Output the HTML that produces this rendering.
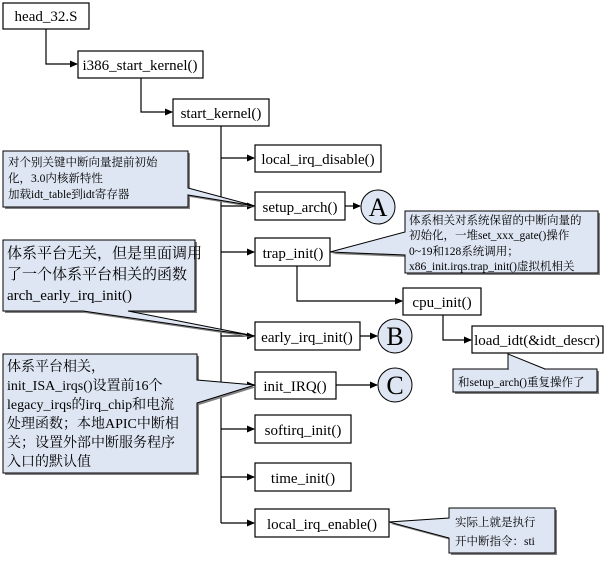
<!DOCTYPE html>
<html><head><meta charset="utf-8"><style>
body{margin:0;background:#fff}
svg text{font-family:"Liberation Serif","Noto Serif CJK SC",serif;fill:#000}
</style></head><body>
<svg width="605" height="558" xmlns="http://www.w3.org/2000/svg">
<defs><marker id="ar" markerWidth="8" markerHeight="8" refX="7" refY="4" orient="auto" markerUnits="userSpaceOnUse"><path d="M0,0.5 L8,4 L0,7.5z" fill="#000"/></marker></defs>
<g fill="none" stroke="#000" stroke-width="1.2">
<path d="M46,29 V64 H77" marker-end="url(#ar)"/>
<path d="M141,78 V112 H172" marker-end="url(#ar)"/>
<path d="M221,126 V523"/>
<path d="M221,158 H254" marker-end="url(#ar)"/>
<path d="M221,206 H254" marker-end="url(#ar)"/>
<path d="M221,252 H254" marker-end="url(#ar)"/>
<path d="M221,336 H254" marker-end="url(#ar)"/>
<path d="M221,385 H254" marker-end="url(#ar)"/>
<path d="M221,429 H254" marker-end="url(#ar)"/>
<path d="M221,477 H254" marker-end="url(#ar)"/>
<path d="M221,523 H254" marker-end="url(#ar)"/>
<path d="M297,266 V301 H402" marker-end="url(#ar)"/>
<path d="M443,315 V340 H471" marker-end="url(#ar)"/>
<path d="M345,206 H360" marker-end="url(#ar)"/>
<path d="M360,336 H377" marker-end="url(#ar)"/>
<path d="M336,385 H377" marker-end="url(#ar)"/>
</g>
<g fill="#fff" stroke="#000" stroke-width="1.2">
<rect x="3" y="3" width="86" height="26"/>
<rect x="78" y="51" width="125" height="27"/>
<rect x="173" y="99" width="96" height="27"/>
<rect x="255" y="145" width="126" height="27"/>
<rect x="255" y="192" width="90" height="28"/>
<rect x="255" y="238" width="75" height="28"/>
<rect x="403" y="288" width="78" height="27"/>
<rect x="472" y="326" width="131" height="27"/>
<rect x="255" y="322" width="105" height="28"/>
<rect x="255" y="372" width="81" height="27"/>
<rect x="255" y="415" width="96" height="28"/>
<rect x="255" y="463" width="96" height="28"/>
<rect x="255" y="509" width="134" height="28"/>
</g>
<g fill="#dfe6f3" stroke="#000" stroke-width="1">
<circle cx="378" cy="207" r="17"/>
<circle cx="395" cy="336" r="17"/>
<circle cx="395" cy="385" r="17"/>
</g>
<g font-size="26" text-anchor="middle">
<text x="378" y="216">A</text><text x="395" y="345">B</text><text x="395" y="394">C</text>
</g>
<g font-size="15">
<text x="46" y="21" text-anchor="middle">head_32.S</text>
<text x="140" y="70" text-anchor="middle">i386_start_kernel()</text>
<text x="221" y="118" text-anchor="middle">start_kernel()</text>
<text x="318" y="164" text-anchor="middle">local_irq_disable()</text>
<text x="300" y="212" text-anchor="middle">setup_arch()</text>
<text x="293" y="258" text-anchor="middle">trap_init()</text>
<text x="442" y="307" text-anchor="middle">cpu_init()</text>
<text x="537" y="345" text-anchor="middle">load_idt(&amp;idt_descr)</text>
<text x="307" y="342" text-anchor="middle">early_irq_init()</text>
<text x="295" y="391" text-anchor="middle">init_IRQ()</text>
<text x="303" y="435" text-anchor="middle">softirq_init()</text>
<text x="303" y="483" text-anchor="middle">time_init()</text>
<text x="322" y="529" text-anchor="middle">local_irq_enable()</text>
</g>
<g fill="#808080" stroke="none">
<path d="M5,153 H190 V190 L257,208 L190,197 V209 H5z"/>
<path d="M5,242 H197 V313 H130 L257,338 L85,313 H5z"/>
<path d="M5,356 H199 V382 L257,387 L199,405 V475 H5z"/>
<path d="M407,213 H600 V275 H407 V257 L332,254 L407,234z"/>
<path d="M455,371 H599 V394 H455z"/>
<path d="M451,510 H557 V555 H451 V540 L391,524 L451,520z"/>
</g>
<g fill="#dfe6f3" stroke="#000" stroke-width="1">
<path d="M3,151 H188 V188 L255,206 L188,195 V207 H3z"/>
<path d="M3,240 H195 V311 H128 L255,336 L83,311 H3z"/>
<path d="M3,354 H197 V380 L255,385 L197,403 V473 H3z"/>
<path d="M405,211 H598 V273 H405 V255 L330,252 L405,232z"/>
<path d="M453,369 H597 V392 H453z"/>
<path d="M449,508 H555 V553 H449 V538 L389,522 L449,518z"/>
</g>
<path d="M508,369 L508,354 L545,369" fill="#dfe6f3" stroke="#000"/>
<path d="M509,370 H544" stroke="#dfe6f3" stroke-width="2"/>
<g font-size="11.5">
<text x="8" y="166">对个别关键中断向量提前初始</text>
<text x="8" y="182">化，3.0内核新特性</text>
<text x="8" y="198">加载idt_table到idt寄存器</text>
<text x="409" y="224">体系相关对系统保留的中断向量的</text>
<text x="409" y="239">初始化，一堆set_xxx_gate()操作</text>
<text x="409" y="255">0~19和128系统调用；</text>
<text x="409" y="270">x86_init.irqs.trap_init()虚拟机相关</text>
<text x="458" y="386">和setup_arch()重复操作了</text>
<text x="455" y="526">实际上就是执行</text>
<text x="455" y="545">开中断指令：sti</text>
</g>
<g font-size="15">
<text x="7" y="258">体系平台无关，但是里面调用</text>
<text x="7" y="279">了一个体系平台相关的函数</text>
<text x="7" y="300">arch_early_irq_init()</text>
</g>
<g font-size="14">
<text x="7" y="371">体系平台相关，</text>
<text x="7" y="390">init_ISA_irqs()设置前16个</text>
<text x="7" y="409">legacy_irqs的irq_chip和电流</text>
<text x="7" y="428">处理函数；本地APIC中断相</text>
<text x="7" y="447">关；设置外部中断服务程序</text>
<text x="7" y="466">入口的默认值</text>
</g>
</svg>
</body></html>
